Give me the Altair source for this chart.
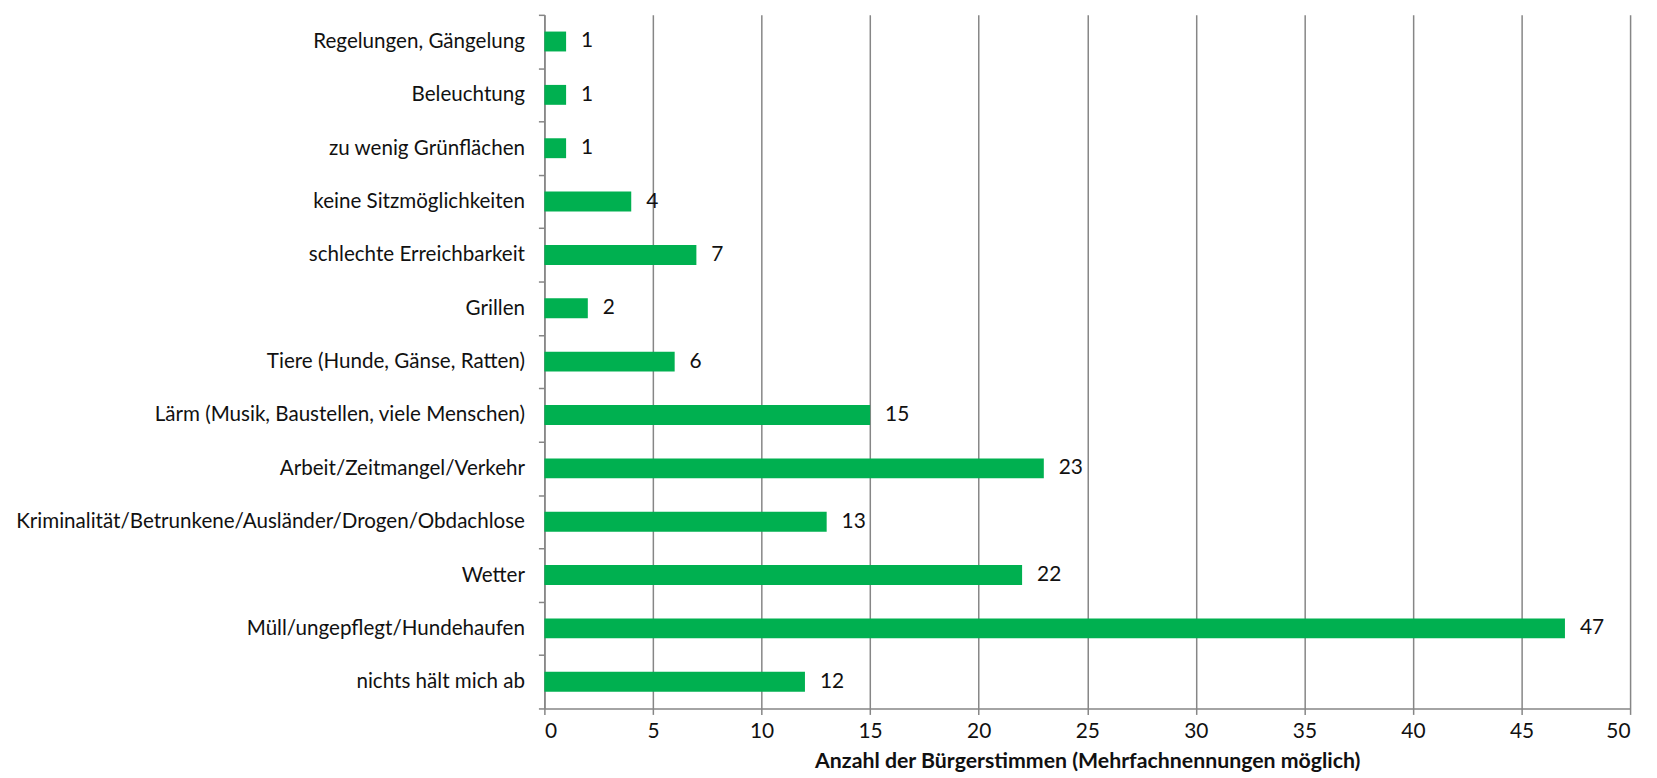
import altair as alt
import pandas as pd

categories = [
    "Regelungen, Gängelung",
    "Beleuchtung",
    "zu wenig Grünflächen",
    "keine Sitzmöglichkeiten",
    "schlechte Erreichbarkeit",
    "Grillen",
    "Tiere (Hunde, Gänse, Ratten)",
    "Lärm (Musik, Baustellen, viele Menschen)",
    "Arbeit/Zeitmangel/Verkehr",
    "Kriminalität/Betrunkene/Ausländer/Drogen/Obdachlose",
    "Wetter",
    "Müll/ungepflegt/Hundehaufen",
    "nichts hält mich ab",
]
values = [1, 1, 1, 4, 7, 2, 6, 15, 23, 13, 22, 47, 12]
x_ticks = list(range(0, 51, 5))

df = pd.DataFrame({"cat": categories, "val": values})

FONT = "Lato"
FS = 20.7
GREEN = "#00B050"
GRAY = "#868686"
TXT = "#111111"

y_enc = alt.Y(
    "cat:N",
    sort=categories,
    scale=alt.Scale(paddingInner=0, paddingOuter=0),
    axis=alt.Axis(
        title=None,
        labelFont=FONT,
        labelFontSize=FS,
        labelColor=TXT,
        labelPadding=14,
        tickBand="extent",
        tickSize=6,
        tickColor=GRAY,
        tickWidth=1.5,
        domainColor=GRAY,
        domainWidth=1.5,
        grid=False,
        labelLimit=800,
    ),
)

x_enc = alt.X(
    "val:Q",
    scale=alt.Scale(domain=[0, 50], nice=False),
    axis=alt.Axis(
        values=x_ticks,
        title="Anzahl der Bürgerstimmen (Mehrfachnennungen möglich)",
        titleFont=FONT,
        titleFontSize=21.4,
        titleFontWeight="bold",
        titleColor=TXT,
        titlePadding=9,
        labelFont=FONT,
        labelFontSize=21,
        labelColor=TXT,
        labelPadding=6,
        tickSize=6,
        tickColor=GRAY,
        tickWidth=1.5,
        domainColor=GRAY,
        domainWidth=1.5,
        grid=True,
        gridColor=GRAY,
        gridWidth=1.5,
    ),
)

bars = alt.Chart(df).mark_bar(color=GREEN, size=20).encode(x=x_enc, y=y_enc)

labels = alt.Chart(df).mark_text(
    align="left", baseline="middle", dx=15, font=FONT, fontSize=21, color=TXT
).encode(
    x=alt.X("val:Q"),
    y=alt.Y("cat:N", sort=categories),
    text=alt.Text("val:Q"),
)

chart = (
    alt.layer(bars, labels)
    .properties(
        width=1091,
        height=697,
        autosize=alt.AutoSizeParams(type="none"),
        padding={"left": 539, "top": 5, "right": 19, "bottom": 62},
    )
    .configure_view(stroke=None)
)

chart.save("out.html", embed_options={"renderer": "svg", "actions": False})
